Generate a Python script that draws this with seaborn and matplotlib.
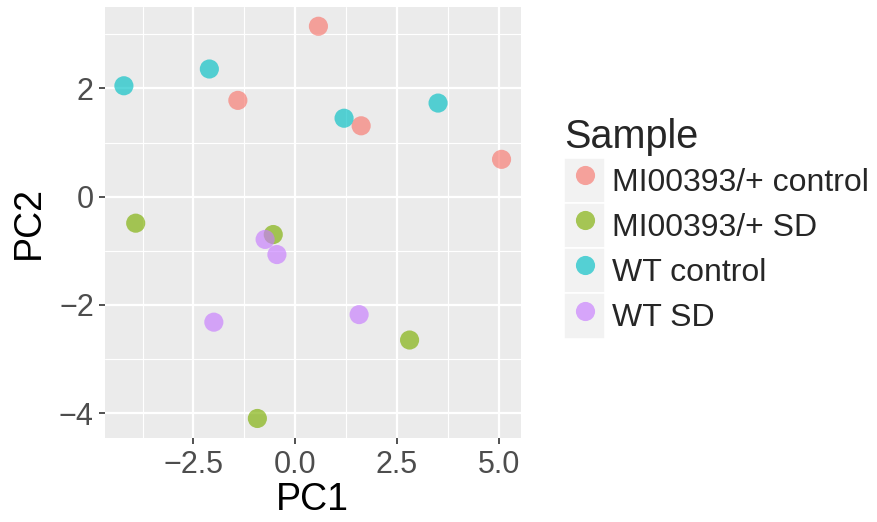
import pandas as pd
import matplotlib.pyplot as plt
import seaborn as sns
from matplotlib.lines import Line2D
from matplotlib.patches import Rectangle
from matplotlib.legend_handler import HandlerLine2D

# Valores
sample = ['MI00393/+ control'] * 4 + ['MI00393/+ SD'] * 4 + ['WT control'] * 4 + ['WT SD'] * 4
pc1 = [0.57, -1.41, 1.62, 5.07,
       -3.92, -0.54, 2.81, -0.93,
       -4.21, -2.11, 1.20, 3.51,
       -0.74, -0.45, -2.00, 1.57]
pc2 = [3.15, 1.78, 1.31, 0.69,
       -0.49, -0.70, -2.65, -4.10,
       2.05, 2.36, 1.45, 1.73,
       -0.79, -1.07, -2.32, -2.18]
groups = ['MI00393/+ control', 'MI00393/+ SD', 'WT control', 'WT SD']
colors = ['#F8766D', '#7CAE00', '#00BFC4', '#C77CFF']
x_ticks = [-2.5, 0.0, 2.5, 5.0]
y_ticks = [-4, -2, 0, 2]

df = pd.DataFrame({'PC1': pc1, 'PC2': pc2, 'Sample': sample})

LABEL_GAP = 0.1  # labelspacing da legenda


class KeyBox(HandlerLine2D):
    # fundo cinza claro por trás de cada chave da legenda (estilo ggplot)
    def create_artists(self, legend, orig_handle, xdescent, ydescent, width, height, fontsize, trans):
        arts = super().create_artists(legend, orig_handle, xdescent, ydescent, width, height, fontsize, trans)
        gap = LABEL_GAP * fontsize
        box = Rectangle((-xdescent, -ydescent - gap / 2), width, height + gap, facecolor='#F2F2F2',
                        edgecolor='white', linewidth=1.2, transform=trans)
        return [box] + arts


sns.set_style('darkgrid', {'axes.facecolor': '#EBEBEB', 'grid.color': 'white'})
plt.rcParams['font.family'] = ['Liberation Sans', 'DejaVu Sans']

fig = plt.figure(figsize=(8.77, 5.22), dpi=100)
ax = fig.add_axes([0.1197, 0.160, 0.474, 0.827])

sns.scatterplot(data=df, x='PC1', y='PC2', hue='Sample', hue_order=groups, palette=colors,
                s=190, alpha=0.65, edgecolor='none', legend=False, ax=ax, zorder=3)

ax.set_xlim(-4.675, 5.54)
ax.set_ylim(-4.47, 3.51)
ax.set_xticks(x_ticks)
ax.set_xticklabels(['\u22122.5', '0.0', '2.5', '5.0'])
ax.set_yticks(y_ticks)
ax.set_yticklabels(['\u22124', '\u22122', '0', '2'])
ax.set_xticks([-3.75, -1.25, 1.25, 3.75], minor=True)
ax.set_yticks([-3, -1, 1, 3], minor=True)
ax.grid(which='major', color='white', linewidth=1.6)
ax.grid(which='minor', color='white', linewidth=0.8)
ax.tick_params(which='major', length=4, width=1.2, color='#333333', labelsize=22,
               labelcolor='#4D4D4D', bottom=True, left=True)
ax.tick_params(axis='x', which='major', pad=4)
ax.tick_params(axis='y', which='major', pad=4)
ax.tick_params(which='minor', length=0)
for s in ax.spines.values():
    s.set_visible(False)

ax.set_xlabel('PC1', fontsize=27, color='black', labelpad=2)
ax.set_ylabel('PC2', fontsize=27, color='black', labelpad=9)

handles = [Line2D([], [], marker='o', linestyle='', markersize=13.8, markerfacecolor=c,
                  markeredgewidth=0, alpha=0.65) for c in colors]
leg = ax.legend(handles, groups, title='Sample', loc='upper left',
                bbox_to_anchor=(0.643, 0.774), bbox_transform=fig.transFigure,
                frameon=False, fontsize=23, title_fontsize=28.5, alignment='left',
                handlelength=1.3, handleheight=1.65, handletextpad=0.22,
                labelspacing=LABEL_GAP, borderpad=0, borderaxespad=0,
                handler_map={Line2D: KeyBox()})

plt.savefig('out.png', dpi=100)
